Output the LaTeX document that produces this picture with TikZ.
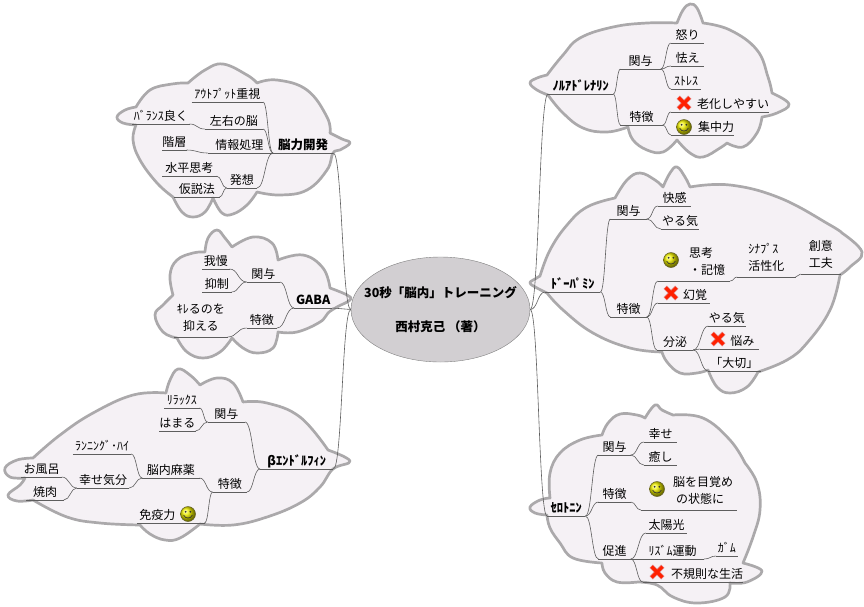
\documentclass[tikz,border=0pt]{standalone}
\usepackage{fontspec}
\setmainfont{Noto Sans CJK JP}
\usepackage{xcolor}
\usepackage{tikz}
\usetikzlibrary{positioning, shapes.geometric, calc}
\definecolor{cloudfill}{HTML}{F5F1F5}
\definecolor{cloudline}{HTML}{ABA9AB}
\definecolor{wireline}{HTML}{5E5E5E}
\definecolor{centerfill}{HTML}{D2CFD2}
\tikzset{
    wire/.style={draw=wireline, line width=.6pt},
    bubble/.style={draw=cloudline, fill=cloudfill, line width=2.7pt, line join=round},
    lobe/.style={smooth, tension=.7},
    topic/.style={inner xsep=0pt, inner ysep=0pt, text height=10pt, text depth=3.5pt, font=\fontsize{12}{17}\selectfont,
        append after command={(\tikzlastnode.south west) edge[wire] (\tikzlastnode.south east)}},
    hub/.style={topic, font=\fontsize{12.5}{17}\selectfont\bfseries},
    twoline/.style={text height=, text depth=6.5pt, align=center},
    lefty/.style={text width=#1, align=left},
    link/.style={to path={let \p1=(\tikztostart), \p2=(\tikztotarget), \n1={(\x1+\x2)/2} in .. controls (\n1,\y1) and (\n1,\y2) .. (\tikztotarget)}},
    smiley/.pic={
        \shade[ball color=yellow!85!olive, draw=olive!60!black, line width=.5pt] (0,0) circle (7.5pt);
        \fill[black!80] (-2.4,-2.2) circle (1pt) (2.4,-2.2) circle (1pt);
        \draw[black!80, line width=.7pt] (-4.4,1.2) .. controls (-2.4,5) and (2.4,5) .. (4.4,1.2);
    },
    crossmark/.pic={
        \draw[line width=4.8pt, draw=red!35!white!90!black] (-5.8,-5.8) -- (5.8,5.8) (-5.8,5.8) -- (5.8,-5.8);
        \draw[line width=3.2pt, draw=red!75!orange] (-5.4,-5.4) -- (5.4,5.4) (-5.4,5.4) -- (5.4,-5.4);
    }
}
\begin{document}
\begin{tikzpicture}[x=1pt, y=-1pt]
    \useasboundingbox (0,0) rectangle (864,606);

    \draw[bubble] plot[lobe] coordinates {(136,125) (123,123) (117,117) (125,110) (136,107)}
        -- plot[lobe] coordinates {(136,107) (150,90) (172,84) (188,83)}
        -- plot[lobe] coordinates {(188,83) (205,70) (223,64) (247,75) (257,83)}
        -- plot[lobe] coordinates {(257,83) (277,80) (307,90) (327,117) (330,133)}
        -- plot[lobe] coordinates {(330,133) (342,139) (350,143) (340,150) (333,153) (327,170) (307,190) (280,195) (257,192)}
        -- plot[lobe] coordinates {(257,192) (247,205) (233,214) (222,213) (213,198)}
        -- plot[lobe] coordinates {(213,198) (205,212) (193,217) (182,212) (173,197)}
        -- plot[lobe] coordinates {(173,197) (157,183) (140,160) (133,140) (136,125)} -- cycle;
    \draw[bubble] plot[lobe] coordinates {(205,252) (208,238) (217,230) (225,238) (232,247)}
        -- plot[lobe] coordinates {(232,247) (253,237) (272,243) (278,260)}
        -- plot[lobe] coordinates {(278,260) (303,255) (323,268) (330,288)}
        -- plot[lobe] coordinates {(330,288) (347,295) (350,300) (337,307) (328,313) (320,322) (297,332) (278,332)}
        -- plot[lobe] coordinates {(278,332) (273,348) (257,353) (243,348) (232,338)}
        -- plot[lobe] coordinates {(232,338) (220,352) (203,358) (187,352) (177,338)}
        -- plot[lobe] coordinates {(177,338) (163,332) (155,315) (163,305) (173,295)}
        -- plot[lobe] coordinates {(173,295) (170,275) (177,260) (193,253) (205,252)} -- cycle;
    \draw[bubble] plot[lobe] coordinates {(25,478) (10,477) (5,468) (17,460) (33,458)}
        -- plot[lobe] coordinates {(33,458) (60,435) (93,413) (133,395) (166,393)}
        -- plot[lobe] coordinates {(166,393) (170,380) (178,369) (190,375) (200,385)}
        -- plot[lobe] coordinates {(200,385) (217,378) (233,383) (243,402)}
        -- plot[lobe] coordinates {(243,402) (267,403) (300,417) (328,450)}
        -- plot[lobe] coordinates {(328,450) (350,461) (333,469) (320,487) (300,503) (267,517) (233,525) (200,524)}
        -- plot[lobe] coordinates {(200,524) (180,538) (165,540) (150,534) (140,525)}
        -- plot[lobe] coordinates {(140,525) (100,523) (67,517) (33,500)}
        -- plot[lobe] coordinates {(33,500) (17,501) (8,495) (20,485) (25,478)} -- cycle;
    \draw[bubble] plot[lobe] coordinates {(548,95) (537,90) (530,83) (537,78) (547,75)}
        -- plot[lobe] coordinates {(547,75) (563,55) (580,38) (613,27) (647,23) (677,23)}
        -- plot[lobe] coordinates {(677,23) (683,10) (690,4) (697,8) (703,23)}
        -- plot[lobe] coordinates {(703,23) (730,30) (757,50) (768,77) (772,93)}
        -- plot[lobe] coordinates {(772,93) (789,104) (777,113) (762,117)}
        -- plot[lobe] coordinates {(762,117) (757,133) (743,147) (727,143)}
        -- plot[lobe] coordinates {(727,143) (720,148) (703,157) (690,153) (677,140)}
        -- plot[lobe] coordinates {(677,140) (663,152) (647,150) (633,140) (628,127)}
        -- plot[lobe] coordinates {(628,127) (607,132) (583,128) (563,113) (548,95)} -- cycle;
    \draw[bubble] plot[lobe] coordinates {(547,293) (537,288) (530,283) (535,279) (540,276)}
        -- plot[lobe] coordinates {(540,276) (550,250) (567,225) (587,207) (615,198)}
        -- plot[lobe] coordinates {(615,198) (627,180) (640,173) (655,180) (663,187)}
        -- plot[lobe] coordinates {(663,187) (670,173) (677,167) (685,177) (690,187)}
        -- plot[lobe] coordinates {(690,187) (730,185) (780,198) (830,225) (842,233)}
        -- plot[lobe] coordinates {(842,233) (862,252) (850,267) (840,275)}
        -- plot[lobe] coordinates {(840,275) (830,310) (807,343) (787,360) (758,372)}
        -- plot[lobe] coordinates {(758,372) (747,387) (730,393) (717,387) (708,370)}
        -- plot[lobe] coordinates {(708,370) (697,373) (680,373) (667,362) (662,352)}
        -- plot[lobe] coordinates {(662,352) (630,348) (593,333) (563,310) (547,293)} -- cycle;
    \draw[bubble] plot[lobe] coordinates {(547,515) (535,513) (530,507) (540,500) (550,498)}
        -- plot[lobe] coordinates {(550,498) (550,473) (560,453) (580,440) (602,435)}
        -- plot[lobe] coordinates {(602,435) (608,423) (620,414) (637,415) (645,418)}
        -- plot[lobe] coordinates {(645,418) (655,405) (662,410) (673,415)}
        -- plot[lobe] coordinates {(673,415) (703,418) (730,440) (745,463)}
        -- plot[lobe] coordinates {(745,463) (757,483) (760,510) (753,537) (743,563)}
        -- plot[lobe] coordinates {(743,563) (762,571) (747,582) (730,583)}
        -- plot[lobe] coordinates {(730,583) (725,597) (697,603) (673,597) (657,585) (638,582)}
        -- plot[lobe] coordinates {(638,582) (617,582) (605,573) (602,563)}
        -- plot[lobe] coordinates {(602,563) (573,558) (560,543) (550,528) (547,515)} -- cycle;

    \node[ellipse, draw=black!50, fill=centerfill, minimum width=179pt, minimum height=105pt, inner xsep=-14pt, inner ysep=0pt, align=center, font=\fontsize{12.5}{17}\selectfont\bfseries] (book) at (440.5,309.5) {30秒「脳内」トレーニング\\[17pt]西村克己 （著）};

    \node[hub, minimum width=60pt, anchor=south west] (brain) at (273,153) {脳力開発};
    \node[topic, minimum width=71pt, above left=51pt and 10pt of brain.south west] (output) {ｱｳﾄﾌﾟｯﾄ重視};
    \node[topic, minimum width=58pt, above left=24pt and 10pt of brain.south west] (sides) {左右の脳};
    \node[topic, minimum width=57pt, above left=5pt and 15pt of sides.south west] (balance) {ﾊﾞﾗﾝｽ良く};
    \node[topic, minimum width=63pt, above left=0pt and 2pt of brain.south west] (info) {情報処理};
    \node[topic, minimum width=24pt, above left=3pt and 21pt of info.south west] (layer) {階層};
    \node[topic, minimum width=30pt, above left=-35pt and 16pt of brain.south west] (idea) {発想};
    \node[topic, minimum width=54pt, above left=12pt and 10pt of idea.south west] (lateral) {水平思考};
    \node[topic, minimum width=45pt, above left=-9pt and 7pt of idea.south west] (hypo) {仮説法};

    \node[hub, minimum width=38pt, anchor=south west] (gaba) at (294,308) {GABA};
    \node[topic, minimum width=33pt, above left=26pt and 14pt of gaba.south west] (gabarole) {関与};
    \node[topic, minimum width=27pt, above left=13pt and 17pt of gabarole.south west] (patience) {我慢};
    \node[topic, minimum width=29pt, above left=-10pt and 15pt of gabarole.south west] (restrain) {抑制};
    \node[topic, minimum width=30pt, above left=-20pt and 17pt of gaba.south west] (gabatrait) {特徴};
    \node[topic, twoline, minimum width=53pt, above left=-9pt and 19pt of gabatrait.south west] (temper) {ｷﾚるのを\\抑える};

    \node[hub, minimum width=73pt, anchor=south west] (endorphin) at (260,469) {βｴﾝﾄﾞﾙﾌｨﾝ};
    \node[topic, minimum width=37pt, above left=47pt and 15pt of endorphin.south west] (endorole) {関与};
    \node[topic, minimum width=35pt, above left=14pt and 8pt of endorole.south west] (relax) {ﾘﾗｯｸｽ};
    \node[topic, minimum width=36pt, above left=-9pt and 12pt of endorole.south west] (hooked) {はまる};
    \node[topic, minimum width=34pt, above left=-23pt and 13pt of endorphin.south west] (endotrait) {特徴};
    \node[topic, minimum width=57pt, above left=14pt and 13pt of endotrait.south west] (narcotic) {脳内麻薬};
    \node[topic, lefty=67pt, above left=-31pt and 8pt of endotrait.south west] (immunity) {\hspace*{2pt}免疫力};
    \node[topic, minimum width=52pt, above left=-10pt and 13pt of narcotic.south west] (mood) {幸せ気分};
    \node[topic, minimum width=58pt, above left=24pt and 11pt of narcotic.south west] (runner) {ﾗﾝﾆﾝｸﾞ･ﾊｲ};
    \node[topic, minimum width=40pt, above left=11pt and 15pt of mood.south west] (bath) {お風呂};
    \node[topic, minimum width=37pt, above left=-12pt and 13pt of mood.south west] (grill) {焼肉};

    \node[hub, minimum width=65pt, anchor=south west] (noradr) at (548,94) {ﾉﾙｱﾄﾞﾚﾅﾘﾝ};
    \node[topic, minimum width=40pt, above right=25pt and 7pt of noradr.south east] (norrole) {関与};
    \node[topic, minimum width=33pt, above right=26pt and 10pt of norrole.south east] (anger) {怒り};
    \node[topic, minimum width=33pt, above right=3pt and 10pt of norrole.south east] (fear) {怯え};
    \node[topic, minimum width=30pt, above right=-20pt and 10pt of norrole.south east] (stress) {ｽﾄﾚｽ};
    \node[topic, minimum width=42pt, above right=-31pt and 7pt of noradr.south east] (nortrait) {特徴};
    \node[topic, text width=98pt, align=right, above right=13pt and 8pt of nortrait.south east] (aging) {老化しやすい};
    \node[topic, text width=63pt, align=right, above right=-10pt and 8pt of nortrait.south east] (focus) {集中力};

    \node[hub, minimum width=55pt, anchor=south west] (dopamine) at (545,292) {ﾄﾞｰﾊﾟﾐﾝ};
    \node[topic, minimum width=36pt, above right=73pt and 10pt of dopamine.south east] (doparole) {関与};
    \node[topic, minimum width=33pt, above right=13pt and 11pt of doparole.south east] (pleasure) {快感};
    \node[topic, minimum width=38pt, above right=-10pt and 14pt of doparole.south east] (drive) {やる気};
    \node[topic, minimum width=36pt, above right=-25pt and 10pt of dopamine.south east] (dopatrait) {特徴};
    \node[topic, twoline, lefty=72pt, text depth=23.5pt, above right=36pt and 11pt of dopatrait.south east] (memory) {\hspace*{31pt}思考\\\hspace*{31pt}・記憶};
    \node[topic, twoline, align=left, minimum width=58pt, above right=4pt and 7pt of memory.south east] (synapse) {ｼﾅﾌﾟｽ\\活性化};
    \node[topic, twoline, minimum width=40pt, above right=3pt and 5pt of synapse.south east] (invent) {創意\\工夫};
    \node[topic, lefty=52pt, above right=14pt and 11pt of dopatrait.south east] (vision) {\hspace*{25pt}幻覚};
    \node[topic, minimum width=36pt, above right=-33pt and 10pt of dopatrait.south east] (secrete) {分泌};
    \node[topic, minimum width=37pt, above right=24pt and 15pt of secrete.south east] (drivetwo) {やる気};
    \node[topic, lefty=58pt, above right=1pt and 7pt of secrete.south east] (worry) {\hspace*{30pt}悩み};
    \node[topic, minimum width=52pt, above right=-21pt and 15pt of secrete.south east] (vital) {「大切」};

    \node[hub, minimum width=38pt, anchor=south west] (serotonin) at (547,516) {ｾﾛﾄﾆﾝ};
    \node[topic, minimum width=32pt, above right=61pt and 13pt of serotonin.south east] (serorole) {関与};
    \node[topic, minimum width=33pt, above right=13pt and 13pt of serorole.south east] (joy) {幸せ};
    \node[topic, minimum width=33pt, above right=-10pt and 13pt of serorole.south east] (healing) {癒し};
    \node[topic, minimum width=32pt, above right=14pt and 13pt of serotonin.south east] (serotrait) {特徴};
    \node[topic, twoline, lefty=96pt, text depth=23.5pt, above right=-8pt and 10pt of serotrait.south east] (wake) {\hspace*{32pt}脳を目覚め\\\hspace*{35pt}の状態に};
    \node[topic, minimum width=32pt, above right=-43pt and 13pt of serotonin.south east] (promote) {促進};
    \node[topic, minimum width=41pt, above right=26pt and 15pt of promote.south east] (sunlight) {太陽光};
    \node[topic, minimum width=63pt, above right=0pt and 10pt of promote.south east] (rhythm) {ﾘｽﾞﾑ運動};
    \node[topic, minimum width=21pt, above right=3pt and 12pt of rhythm.south east] (gum) {ｶﾞﾑ};
    \node[topic, text width=100pt, align=right, above right=-23pt and 12pt of promote.south east] (irregular) {不規則な生活};

    \pic at (188,514) {smiley};
    \pic at (684,127) {smiley};
    \pic at (671,260) {smiley};
    \pic at (657,489) {smiley};
    \pic at (684,103) {crossmark};
    \pic at (671,293) {crossmark};
    \pic at (718,339) {crossmark};
    \pic at (657,572) {crossmark};

    \draw[wire] (book.west) to[link] (brain.south east);
    \draw[wire] (book.west) to[link] (gaba.south east);
    \draw[wire] (book.west) to[link] (endorphin.south east);
    \draw[wire] (book.east) to[link] (noradr.south west);
    \draw[wire] (book.east) to[link] (dopamine.south west);
    \draw[wire] (book.east) to[link] (serotonin.south west);

    \draw[wire] (brain.south west) to[link] (output.south east);
    \draw[wire] (brain.south west) to[link] (sides.south east);
    \draw[wire] (sides.south west) to[link] (balance.south east);
    \draw[wire] (brain.south west) to[link] (info.south east);
    \draw[wire] (info.south west) to[link] (layer.south east);
    \draw[wire] (brain.south west) to[link] (idea.south east);
    \draw[wire] (idea.south west) to[link] (lateral.south east);
    \draw[wire] (idea.south west) to[link] (hypo.south east);

    \draw[wire] (gaba.south west) to[link] (gabarole.south east);
    \draw[wire] (gabarole.south west) to[link] (patience.south east);
    \draw[wire] (gabarole.south west) to[link] (restrain.south east);
    \draw[wire] (gaba.south west) to[link] (gabatrait.south east);
    \draw[wire] (gabatrait.south west) to[link] (temper.south east);

    \draw[wire] (endorphin.south west) to[link] (endorole.south east);
    \draw[wire] (endorole.south west) to[link] (relax.south east);
    \draw[wire] (endorole.south west) to[link] (hooked.south east);
    \draw[wire] (endorphin.south west) to[link] (endotrait.south east);
    \draw[wire] (endotrait.south west) to[link] (narcotic.south east);
    \draw[wire] (endotrait.south west) to[link] (immunity.south east);
    \draw[wire] (narcotic.south west) to[link] (mood.south east);
    \draw[wire] (narcotic.south west) to[link] (runner.south east);
    \draw[wire] (mood.south west) to[link] (bath.south east);
    \draw[wire] (mood.south west) to[link] (grill.south east);

    \draw[wire] (noradr.south east) to[link] (norrole.south west);
    \draw[wire] (norrole.south east) to[link] (anger.south west);
    \draw[wire] (norrole.south east) to[link] (fear.south west);
    \draw[wire] (norrole.south east) to[link] (stress.south west);
    \draw[wire] (noradr.south east) to[link] (nortrait.south west);
    \draw[wire] (nortrait.south east) to[link] (aging.south west);
    \draw[wire] (nortrait.south east) to[link] (focus.south west);

    \draw[wire] (dopamine.south east) to[link] (doparole.south west);
    \draw[wire] (doparole.south east) to[link] (pleasure.south west);
    \draw[wire] (doparole.south east) to[link] (drive.south west);
    \draw[wire] (dopamine.south east) to[link] (dopatrait.south west);
    \draw[wire] (dopatrait.south east) to[link] (memory.south west);
    \draw[wire] (memory.south east) to[link] (synapse.south west);
    \draw[wire] (synapse.south east) to[link] (invent.south west);
    \draw[wire] (dopatrait.south east) to[link] (vision.south west);
    \draw[wire] (dopatrait.south east) to[link] (secrete.south west);
    \draw[wire] (secrete.south east) to[link] (drivetwo.south west);
    \draw[wire] (secrete.south east) to[link] (worry.south west);
    \draw[wire] (secrete.south east) to[link] (vital.south west);

    \draw[wire] (serotonin.south east) to[link] (serorole.south west);
    \draw[wire] (serorole.south east) to[link] (joy.south west);
    \draw[wire] (serorole.south east) to[link] (healing.south west);
    \draw[wire] (serotonin.south east) to[link] (serotrait.south west);
    \draw[wire] (serotrait.south east) to[link] (wake.south west);
    \draw[wire] (serotonin.south east) to[link] (promote.south west);
    \draw[wire] (promote.south east) to[link] (sunlight.south west);
    \draw[wire] (promote.south east) to[link] (rhythm.south west);
    \draw[wire] (rhythm.south east) to[link] (gum.south west);
    \draw[wire] (promote.south east) to[link] (irregular.south west);
\end{tikzpicture}
\end{document}
